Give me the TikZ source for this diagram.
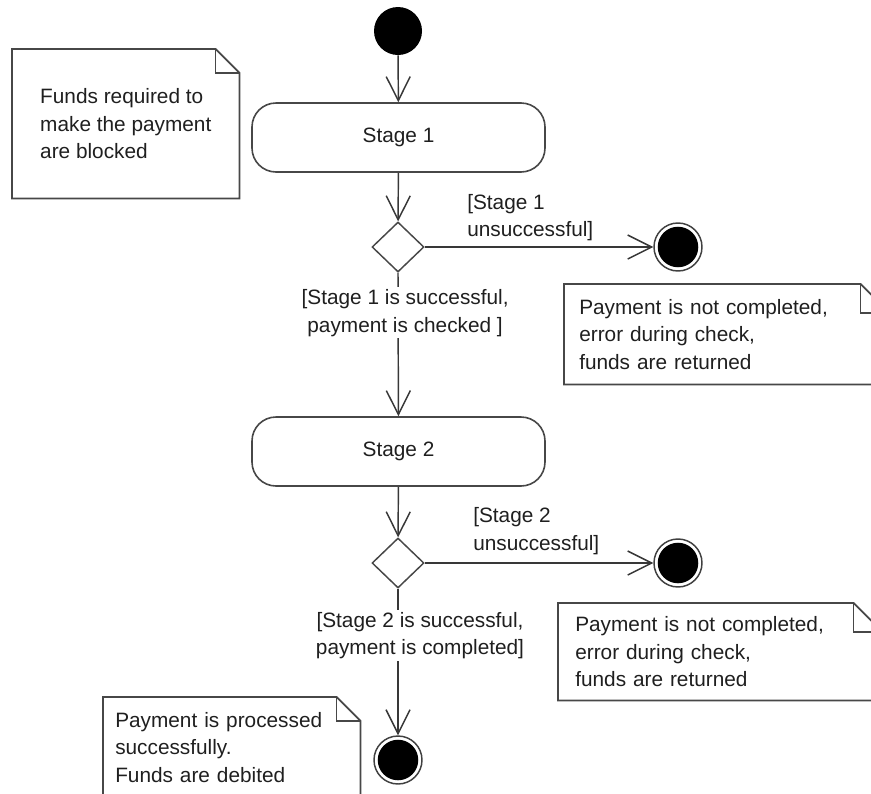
\documentclass[tikz,border=0pt]{standalone}
\usepackage{fontspec}
\setmainfont{Liberation Sans}
\usetikzlibrary{arrows.meta}
\usetikzlibrary{shapes.geometric}
\usetikzlibrary{positioning}

\tikzset{
  action/.style={rectangle, rounded corners=18pt, draw=black!72, line width=1.2pt,
    minimum width=219.75pt, minimum height=51.75pt},
  branch/.style={diamond, draw=black!72, line width=1.1pt, minimum width=39pt,
    minimum height=37.5pt, inner sep=0pt},
  initial/.style={circle, fill=black, minimum size=36pt, inner sep=0pt},
  final/.style={circle, draw=black!75, line width=1.1pt, minimum size=36pt, inner sep=0pt,
    path picture={\fill[black] (path picture bounding box.center) circle (15.2pt);}},
  flow/.style={draw=black!78, line width=1.1pt, -{Straight Barb[length=18pt,width=18pt]}},
  guard/.style={inner sep=1.5pt, fill=white, align=center},
  note/.style={anchor=north west, inner ysep=0pt, align=left},
  noteline/.style={draw=black!72, line width=1.3pt},
}

% folded corner round a named note
\newcommand\dogear[2][19.5pt]{%
  \draw[noteline] (#2.north west) -- ([xshift=-#1]#2.north east)
    -- ([yshift=-#1]#2.north east) -- (#2.south east) -- (#2.south west) -- cycle;
  \draw[noteline] ([xshift=-#1]#2.north east) |- ([yshift=-#1]#2.north east);
}

\begin{document}
\begin{tikzpicture}[x=0.75pt, y=-0.75pt,
    every node/.style={font=\fontsize{15.6pt}{20.6pt}\selectfont, text=black!88}]
  \useasboundingbox (0,0) rectangle (871,793);
  \clip (0,0) rectangle (871,793);

  % main flow
  \node[initial] (start) at (398,31) {};
  \node[action] (stage1) at (398.5,137.5) {Stage 1};
  \node[branch] (check1) at (398,247) {};
  \node[final] (fail1) at (678,247) {};
  \node[action] (stage2) at (398.5,451.5) {Stage 2};
  \node[branch] (check2) at (398,563) {};
  \node[final] (fail2) at (678,563) {};
  \node[final] (done) at (398,760) {};

  % guards on the failure branches
  \node[anchor=west, align=left, inner sep=0pt] (nogo1) at (467,217.5) {[Stage 1\\unsuccessful]};
  \node[anchor=west, align=left, inner sep=0pt] (nogo2) at (473,531) {[Stage 2\\unsuccessful]};

  % notes
  \node[note, minimum width=170.25pt, minimum height=111.75pt] (blocked) at (12,49)
    {Funds required to\\make the payment\\are blocked};
  \node[note, inner xsep=11.25pt, text width=221.25pt, minimum height=75pt] (returned1) at (564,284)
    {Payment is not completed,\\error during check,\\funds are returned};
  \node[note, inner xsep=12.75pt, text width=217.5pt, minimum height=72.75pt] (returned2) at (558,603)
    {Payment is not completed,\\error during check,\\funds are returned};
  \node[note, inner xsep=9pt, text width=174.75pt, minimum height=75pt] (debited) at (103,697)
    {Payment is processed\\successfully.\\Funds are debited};
  \dogear[18pt]{blocked}
  \dogear[21.75pt]{returned1}
  \dogear[21.75pt]{returned2}
  \dogear[18pt]{debited}

  % connectors
  \draw[flow] (start) -- (stage1);
  \draw[flow] (stage1) -- (check1);
  \draw[flow] (check1.east) -- (fail1);
  \draw[flow] (check1.south) -- node[guard, pos=0.28, xshift=5.25pt]
    {[Stage 1 is successful,\\payment is checked ]} (stage2);
  \draw[flow] (stage2) -- (check2);
  \draw[flow] (check2.east) -- (fail2);
  \draw[flow] (check2.south) -- node[guard, pos=0.32, xshift=16.5pt]
    {[Stage 2 is successful,\\payment is completed]} (done);
\end{tikzpicture}
\end{document}
